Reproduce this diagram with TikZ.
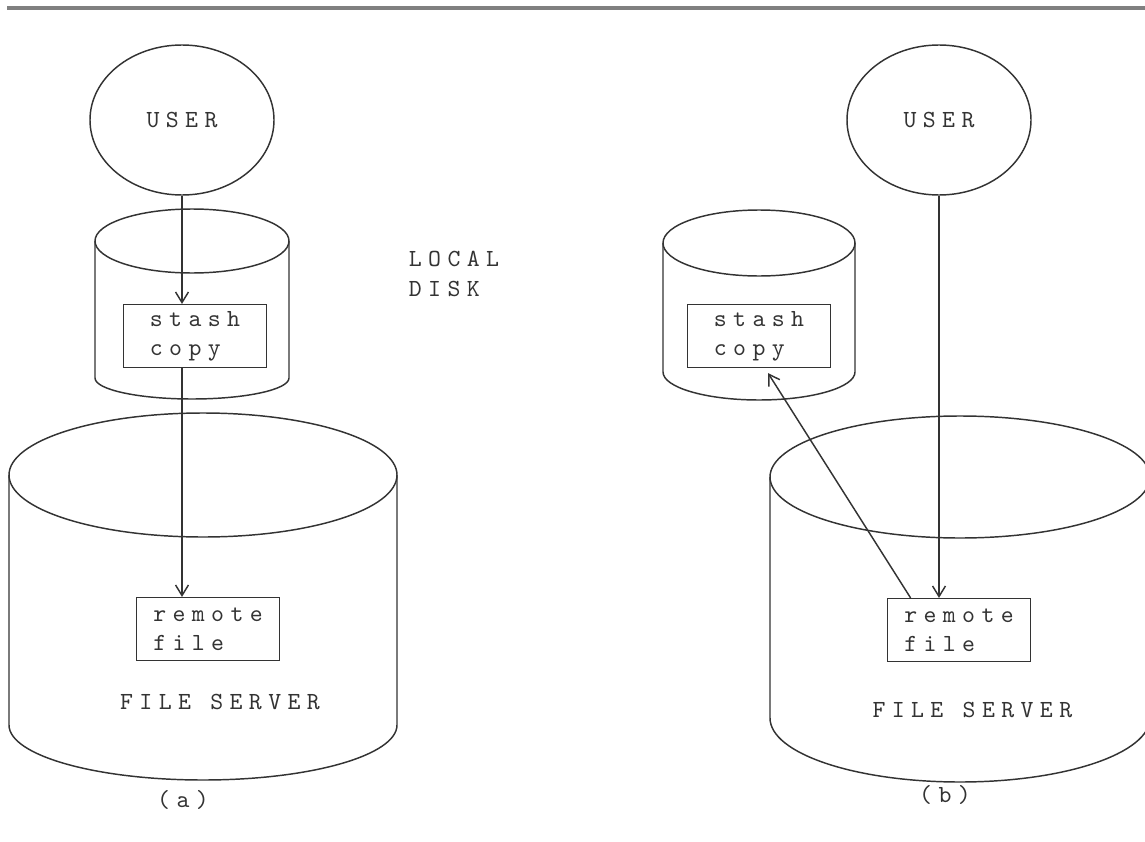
\documentclass[tikz,border=0pt]{standalone}
\usepackage{fontspec}
\setmonofont{lmmono10-regular.otf}[LetterSpace=26]
\usepackage{tikz}
\usetikzlibrary{positioning,calc,shapes.geometric,arrows.meta}
\definecolor{ink}{gray}{0.2}
\newcommand{\lblfont}{\ttfamily\fontsize{21}{25}\selectfont}
\tikzstyle{user} = [draw, ellipse, minimum width=5.52cm, minimum height=4.5cm, font=\lblfont]
\tikzstyle{box} = [draw, rectangle, minimum width=4.3cm, minimum height=1.88cm,
    align=left, inner sep=0pt, font=\lblfont]
\tikzstyle{txt} = [font=\lblfont, align=left]
\tikzstyle{arrow} = [->, >={Straight Barb[length=9pt,width=11pt]}]

\begin{document}
\begin{tikzpicture}[x=0.03cm, y=-0.03cm, line width=1.25pt, draw=ink, text=ink,
    node distance=2.2cm]
    \useasboundingbox (0,0) rectangle (1145,842);
    % rule over the page
    \draw [line width=3pt, gray] (7,8) -- (1145,8);

    % the disks first, (a) on the left and (b) on the right
    \draw (95,241) -- (95,378) arc[start angle=180, end angle=0, x radius=97, y radius=21] -- (289,241);
    \draw (192,241) ellipse [x radius=97, y radius=32];
    \draw (9,475) -- (9,725) arc[start angle=180, end angle=0, x radius=194, y radius=55] -- (397,475);
    \draw (203,475) ellipse [x radius=194, y radius=62];
    \draw (663,243) -- (663,372) arc[start angle=180, end angle=0, x radius=96, y radius=28] -- (855,243);
    \draw (759,243) ellipse [x radius=96, y radius=33];
    \draw (770,477) -- (770,718) arc[start angle=180, end angle=0, x radius=190, y radius=64] -- (1150,477);
    \draw (960,477) ellipse [x radius=190, y radius=61];

    % then the blocks
    \node [user] (userA) at (182,120) {USER};
    \node [user] (userB) at (939,120) {USER};
    \node [box] (stashA) at (195,336) {stash\\copy};
    \node [box] (stashB) at (759,336) {stash\\copy};
    \node [box] (remoteA) at (208,629) {remote\\file};
    \node [box] (remoteB) at (959,630) {remote\\file};
    \node [txt] (disk) at (454,274) {LOCAL\\DISK};
    \node [txt, below of=remoteA, xshift=0.36cm] (serverA) {FILE SERVER};
    \node [txt, below of=remoteB, node distance=2.4cm, xshift=0.4cm] (serverB) {FILE SERVER};
    \node [txt] (capA) at (183,800) {(a)};
    \node [txt] (capB) at (945,795) {(b)};

    % and the arrows between them
    \draw [arrow] (userA) -- (userA |- stashA.north);
    \draw [arrow] (userA |- stashA.south) -- (userA |- remoteA.north);
    \draw [arrow] (userB) -- (userB |- remoteB.north);
    \draw [arrow] ($(remoteB.north west)+(24,0)$) -- ($(stashB.south)+(9,5)$);
\end{tikzpicture}
\end{document}
